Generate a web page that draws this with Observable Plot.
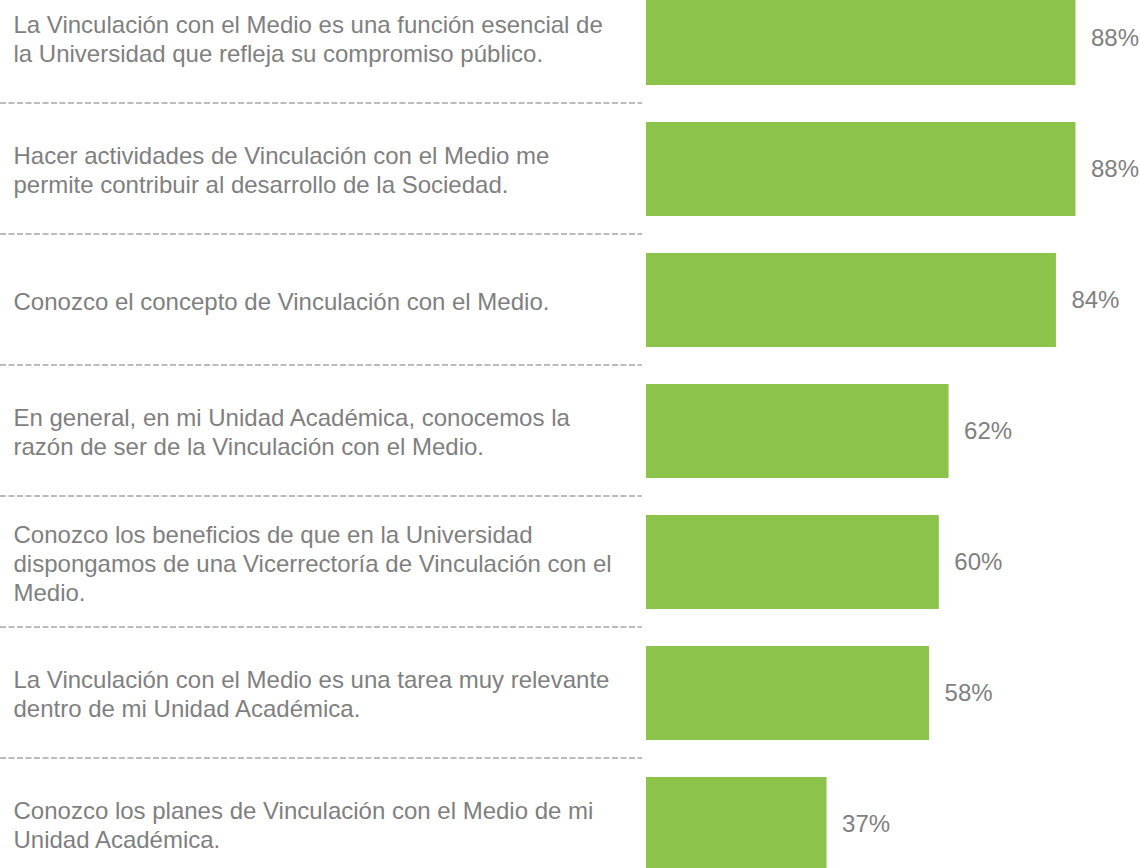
<!DOCTYPE html>
<html>
<head>
<meta charset="utf-8">
<script src="https://cdn.jsdelivr.net/npm/d3@7"></script>
<script src="https://cdn.jsdelivr.net/npm/@observablehq/plot@0.6"></script>
<style>
  html, body { margin: 0; padding: 0; background: #ffffff; }
  #chart svg { display: block; }
</style>
</head>
<body>
<div id="chart"></div>
<script>
const labels = [
  "La Vinculación con el Medio es una función esencial de\nla Universidad que refleja su compromiso público.",
  "Hacer actividades de Vinculación con el Medio me\npermite contribuir al desarrollo de la Sociedad.",
  "Conozco el concepto de Vinculación con el Medio.",
  "En general, en mi Unidad Académica, conocemos la\nrazón de ser de la Vinculación con el Medio.",
  "Conozco los beneficios de que en la Universidad\ndispongamos de una Vicerrectoría de Vinculación con el\nMedio.",
  "La Vinculación con el Medio es una tarea muy relevante\ndentro de mi Unidad Académica.",
  "Conozco los planes de Vinculación con el Medio de mi\nUnidad Académica."
];
const values = [88, 88, 84, 62, 60, 58, 37];

const data = labels.map((label, i) => ({label, value: values[i]}));
const separators = labels.slice(0, labels.length - 1);

const chart = Plot.plot({
  width: 1140,
  height: 868,
  marginLeft: 0,
  marginRight: 498,
  marginTop: 0,
  marginBottom: 0,
  style: {fontFamily: "'Liberation Sans', Arial, sans-serif", background: "#ffffff"},
  x: {domain: [0, 100], range: [646, 1134], axis: null},
  y: {domain: labels, range: [-29.4, 891.1], paddingInner: 0.2837, paddingOuter: 0.14185, axis: null},
  marks: [
    Plot.ruleY(separators, {y: d => d, dy: 64.5, stroke: "#a6a6a6", strokeWidth: 1.3, strokeDasharray: "6,2.5"}),
    Plot.barX(data, {x: "value", y: "label", fill: "#8bc34b"}),
    Plot.text(data, {
      y: "label", text: "label", frameAnchor: "left", dx: 13,
      textAnchor: "start", lineAnchor: "middle", lineHeight: 1.2,
      fontSize: 24, fill: "#7f7f7f"
    }),
    Plot.text(data, {
      x: "value", y: "label", text: d => d.value + "%", dx: 15,
      textAnchor: "start", fontSize: 24, fill: "#7f7f7f"
    })
  ]
});
document.getElementById("chart").appendChild(chart);
</script>
</body>
</html>
